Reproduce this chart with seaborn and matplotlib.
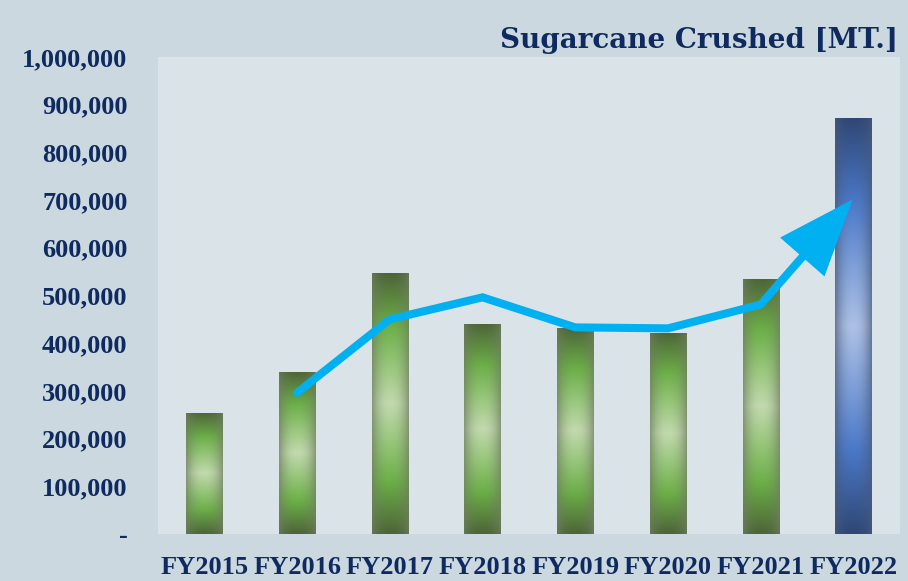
import numpy as np
import pandas as pd
import matplotlib
matplotlib.use('Agg')
import matplotlib.pyplot as plt
import seaborn as sns
from matplotlib.colors import LinearSegmentedColormap, to_rgb
from matplotlib.ticker import FuncFormatter

# Chart data
years = ['FY2015', 'FY2016', 'FY2017', 'FY2018', 'FY2019', 'FY2020', 'FY2021', 'FY2022']
crushed = [254000, 340000, 547000, 441000, 432000, 422000, 535000, 872000]
bar_kind = ['past', 'past', 'past', 'past', 'past', 'past', 'past', 'latest']

# Decorative trend arrow
trend_years = ['FY2016', 'FY2017', 'FY2018', 'FY2019', 'FY2020', 'FY2021']
trend_vals = [296000, 450000, 496000, 433000, 431000, 481000]
arrow_year = 'FY2022'
arrow_tip = 701000

y_ticks = [0, 100000, 200000, 300000, 400000, 500000, 600000, 700000, 800000, 900000, 1000000]

navy = '#0f2a5e'
cyan = '#00b0f0'

df = pd.DataFrame({'year': years, 'crushed': crushed, 'kind': bar_kind})

sns.set_theme(style='white')
plt.rcParams['font.family'] = ['Liberation Serif', 'DejaVu Serif']

fig = plt.figure(figsize=(9.08, 5.81), dpi=100, facecolor='#cbd8e0')
ax = fig.add_axes([0.174, 0.081, 0.817, 0.821])
ax.set_facecolor('#dae3e7')

sns.barplot(data=df, x='year', y='crushed', hue='kind',
            palette={'past': '#6aaa44', 'latest': '#4a78c6'},
            width=0.39, dodge=False, legend=False, ax=ax, zorder=2)

green = LinearSegmentedColormap.from_list(
    'g', [(0, '#c2d9ae'), (0.3, '#97c67a'), (0.6, '#6caf48'), (1, '#4d6437')])
blue = LinearSegmentedColormap.from_list(
    'b', [(0, '#adc1e5'), (0.3, '#7d9ed8'), (0.6, '#4a78c8'), (1, '#2f4776')])
edge_grey = {'g': np.array(to_rgb('#6f7d62')), 'b': np.array(to_rgb('#4a5a7a'))}

# shade each bar: light in the middle, dark at top/bottom, greyish at the sides
u = np.linspace(-1, 1, 60)
t = np.linspace(-1, 1, 240)
U, T = np.meshgrid(u, t)
side = (np.abs(U) ** 2.2 * 0.7)[..., None]
for patch in ax.patches:
    x0, w, h = patch.get_x(), patch.get_width(), patch.get_height()
    if h <= 0:
        continue
    key = 'b' if x0 > len(years) - 1.5 else 'g'
    cmap = blue if key == 'b' else green
    rgb = cmap(np.abs(T))[..., :3]
    rgb = rgb * (1 - side) + edge_grey[key] * side
    im = ax.imshow(rgb, origin='lower', aspect='auto',
                   extent=[x0, x0 + w, 0, h], interpolation='bilinear', zorder=2)
    im.set_clip_path(patch)
    patch.set_facecolor('none')
    patch.set_edgecolor('none')

# trend line + arrow head
tx = [years.index(y) for y in trend_years]
sns.lineplot(x=tx, y=trend_vals, color=cyan, lw=5.8, ax=ax, zorder=4,
             solid_capstyle='round', solid_joinstyle='miter')
ax.annotate('', xy=(years.index(arrow_year) - 0.01, arrow_tip), xytext=(tx[-1], trend_vals[-1]),
            arrowprops=dict(arrowstyle='-|>,head_length=2.2,head_width=0.85', mutation_scale=20,
                            color=cyan, lw=5.8, joinstyle='miter', capstyle='butt',
                            shrinkA=0, shrinkB=0), zorder=4)

ax.set_xlim(-0.5, len(years) - 0.5)
ax.set_ylim(0, 1000000)
ax.set_yticks(y_ticks)
ax.yaxis.set_major_formatter(FuncFormatter(lambda v, p: '-' if v == 0 else f'{v:,.0f}'))
ax.set_xlabel('')
ax.set_ylabel('')
ax.tick_params(axis='y', length=0, pad=22, labelsize=19, labelcolor=navy)
ax.tick_params(axis='x', length=0, pad=16, labelsize=19, labelcolor=navy)
for lab in ax.get_xticklabels() + ax.get_yticklabels():
    lab.set_fontweight('bold')
sns.despine(ax=ax, left=True, bottom=True)
ax.grid(False)

fig.text(0.989, 0.93, 'Sugarcane Crushed [MT.]', ha='right', va='center',
         fontsize=20, fontweight='bold', color=navy, family=['DejaVu Serif'])

fig.savefig('out.png', dpi=100, facecolor=fig.get_facecolor())
